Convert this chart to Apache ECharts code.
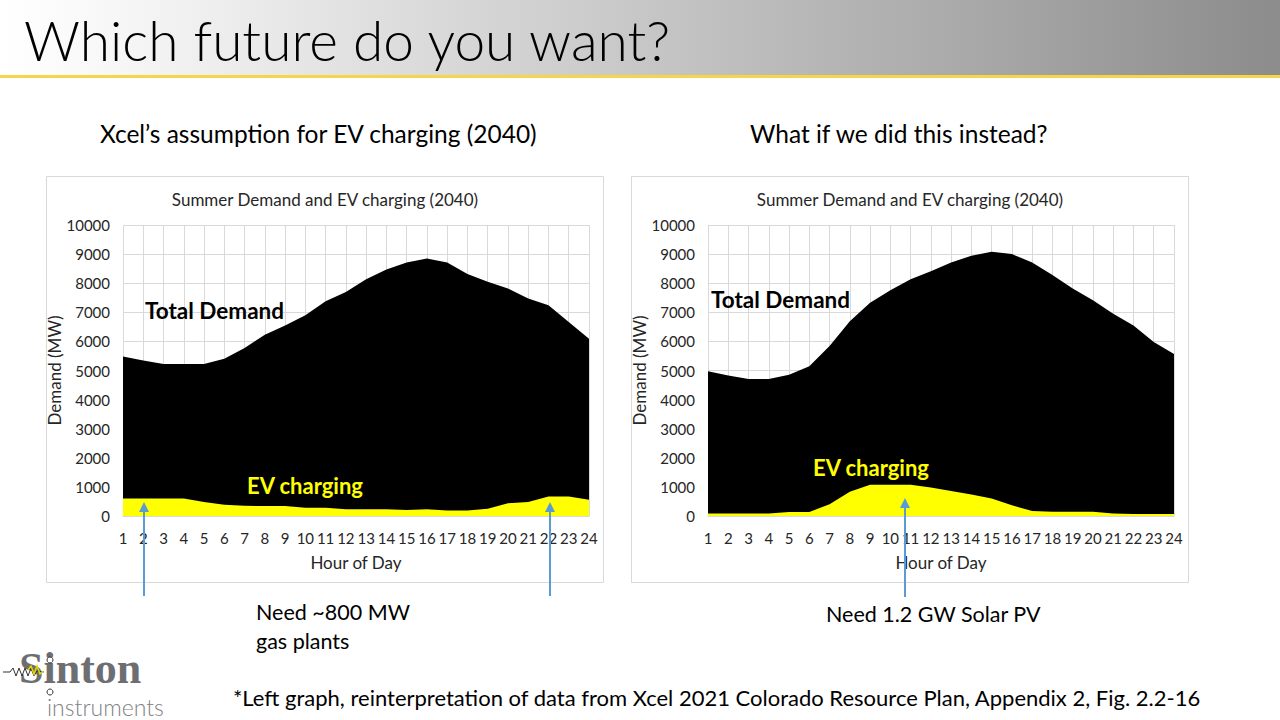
<!DOCTYPE html>
<html><head><meta charset="utf-8">
<script src="https://cdn.jsdelivr.net/npm/echarts@6/dist/echarts.min.js"></script>
<style>html,body{margin:0;padding:0;background:#fff;}#c{width:1280px;height:720px;}</style>
</head><body><div id="c"></div>
<script>
const hours = ['1','2','3','4','5','6','7','8','9','10','11','12','13','14','15','16','17','18','19','20','21','22','23','24'];
const leftTotal = [5480,5340,5220,5220,5220,5400,5770,6230,6550,6900,7380,7700,8140,8470,8710,8850,8710,8320,8050,7820,7470,7240,6670,6090];
const leftEV = [600,600,600,600,480,390,350,345,345,280,280,230,230,230,210,230,185,185,250,440,480,670,670,560];
const rightTotal = [4970,4830,4710,4710,4850,5150,5840,6690,7330,7760,8140,8410,8710,8940,9080,9000,8710,8280,7820,7410,6950,6550,5980,5570];
const rightEV = [90,90,90,90,140,140,400,830,1070,1070,1070,980,860,740,600,370,170,150,150,150,90,70,70,70];

const FONT = 'Lato, "Open Sans", sans-serif';
const TXT = '#262626';
const chart = echarts.init(document.getElementById('c'), null, {renderer:'svg'});

function xAxisCfg(gi){
  return {gridIndex:gi,type:'category',data:hours,boundaryGap:false,
    name:'Hour of Day',nameLocation:'middle',nameGap:38,
    nameTextStyle:{color:TXT,fontSize:17,fontFamily:FONT},
    axisLine:{show:true,lineStyle:{color:'#d9d9d9'}},axisTick:{show:false},
    axisLabel:{color:TXT,fontSize:15,fontFamily:FONT,margin:14,interval:0},
    splitLine:{show:true,lineStyle:{color:'#d9d9d9',width:1}}};
}
function yAxisCfg(gi){
  return {gridIndex:gi,type:'value',min:0,max:10000,interval:1000,
    name:'Demand (MW)',nameLocation:'middle',nameGap:56,
    nameTextStyle:{color:TXT,fontSize:17,fontFamily:FONT},
    axisLine:{show:false},axisTick:{show:false},
    axisLabel:{color:TXT,fontSize:15,fontFamily:FONT,margin:13,formatter:function(v){return String(v);}},
    splitLine:{show:true,lineStyle:{color:'#d9d9d9',width:1}}};
}
function area(name,data,gi,color,z){
  return {name:name,type:'line',xAxisIndex:gi,yAxisIndex:gi,data:data,symbol:'none',
    lineStyle:{width:0},areaStyle:{color:color,opacity:1},z:z,silent:true,animation:false};
}
function arrow(x,y1,y2){
  return [
    {type:'line',shape:{x1:x,y1:y1,x2:x,y2:y2+8},style:{stroke:'#5b9bd5',lineWidth:2},z:100},
    {type:'polygon',shape:{points:[[x,y2],[x-5,y2+10],[x+5,y2+10]]},style:{fill:'#5b9bd5'},z:100}
  ];
}
function txt(t,x,y,size,opts){
  return {type:'text',x:x,y:y,z:100,style:Object.assign({text:t,fontSize:size,fontFamily:FONT,fill:'#000',verticalAlign:'middle'},opts||{})};
}

const graphics = [
  {type:'rect',shape:{x:0,y:0,width:1280,height:75},z:-10,style:{fill:new echarts.graphic.LinearGradient(0,0,1,0,[{offset:0,color:'#ffffff'},{offset:0.08,color:'#f8f8f8'},{offset:1,color:'#8c8c8c'}])}},
  {type:'rect',shape:{x:0,y:75,width:1280,height:3},z:-10,style:{fill:'#f7d54a'}},
  txt('Which future do you want?',24,40,55,{fontWeight:300}),
  txt('Xcel\u2019s assumption for EV charging (2040)',100,133,24.5),
  txt('What if we did this instead?',750,133,24.5),
  {type:'rect',shape:{x:46.5,y:176.5,width:557,height:406},z:-5,style:{fill:'#fff',stroke:'#d9d9d9',lineWidth:1}},
  {type:'rect',shape:{x:631.5,y:176.5,width:557,height:406},z:-5,style:{fill:'#fff',stroke:'#d9d9d9',lineWidth:1}},
  txt('Summer Demand and EV charging (2040)',325,199,17,{fill:TXT,align:'center'}),
  txt('Summer Demand and EV charging (2040)',910,199,17,{fill:TXT,align:'center'}),
  txt('Total Demand',145,310,22.5,{fontWeight:'bold'}),
  txt('EV charging',247,485,22,{fontWeight:'bold',fill:'#ffff00'}),
  txt('Total Demand',711,299,22.5,{fontWeight:'bold'}),
  txt('EV charging',813,467,22,{fontWeight:'bold',fill:'#ffff00'}),
  ...arrow(144,596,502),
  ...arrow(550,596,502),
  ...arrow(905,597,498),
  txt('Need ~800 MW',256,612,21.5),
  txt('gas plants',256,641,21.5),
  txt('Need 1.2 GW Solar PV',826,614,21.5),
  txt('*Left graph, reinterpretation of data from Xcel 2021 Colorado Resource Plan, Appendix 2, Fig. 2.2-16',233,697,22),
  // logo
  txt('Sinton',19,668,44,{fontFamily:'"Liberation Serif","DejaVu Serif",serif',fill:'#6d6e71',fontWeight:'bold'}),
  txt('instruments',47,707,23,{fill:'#808285',fontWeight:300}),
  {type:'polyline',shape:{points:[[3,672],[10,672],[13,668],[16,676],[19,668],[22,676],[25,668],[28,676],[31,668],[34,676],[37,671],[44,672]]},style:{stroke:'#333',lineWidth:1,fill:null},z:101},
  {type:'polyline',shape:{points:[[28,670],[31,666],[34,674],[37,666],[40,674],[43,671]]},style:{stroke:'#e5d800',lineWidth:1.5,fill:null},z:101},
  {type:'circle',shape:{cx:50,cy:660,r:3},style:{fill:'#fff',stroke:'#333',lineWidth:1},z:101},
  {type:'circle',shape:{cx:50,cy:692,r:3},style:{fill:'#fff',stroke:'#333',lineWidth:1},z:101}
];

chart.setOption({
  animation:false,
  grid:[{left:123,top:225,width:466,height:291},{left:708,top:225,width:466,height:291}],
  xAxis:[xAxisCfg(0),xAxisCfg(1)],
  yAxis:[yAxisCfg(0),yAxisCfg(1)],
  series:[
    area('Total Demand',leftTotal,0,'#000000',2),
    area('EV charging',leftEV,0,'#ffff00',3),
    area('Total Demand',rightTotal,1,'#000000',2),
    area('EV charging',rightEV,1,'#ffff00',3)
  ],
  graphic:graphics
});
</script></body></html>
